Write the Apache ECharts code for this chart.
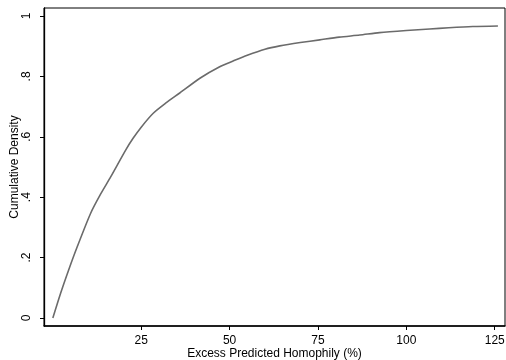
<!DOCTYPE html>
<html><head><meta charset="utf-8">
<script src="https://cdn.jsdelivr.net/npm/echarts@6/dist/echarts.min.js"></script>
<style>html,body{margin:0;padding:0;background:#fff}#c{width:506px;height:360px}</style>
</head><body><div id="c"></div>
<script>
const homophily = [0, 2.2, 4.5, 6.9, 10.7, 13.5, 16.4, 20.6, 22.7, 25, 28.4, 32, 35.9, 41.6, 47.2, 51, 55, 60, 64.2, 70, 75.5, 81, 86.8, 92.4, 100, 106.6, 112, 118.8, 125.9];
const density   = [0, 0.082, 0.16, 0.236, 0.347, 0.41, 0.468, 0.556, 0.595, 0.632, 0.678, 0.712, 0.745, 0.794, 0.832, 0.851, 0.87, 0.89, 0.901, 0.912, 0.921, 0.93, 0.937, 0.945, 0.952, 0.957, 0.961, 0.965, 0.967];
const xTicks = [25, 50, 75, 100, 125];
const yTicks = [0, 0.2, 0.4, 0.6, 0.8, 1];
const yTickLabels = ['0', '.2', '.4', '.6', '.8', '1'];

const chart = echarts.init(document.getElementById('c'));
const font = 'Liberation Sans, Arial, Helvetica, sans-serif';
chart.setOption({
  animation: false,
  grid: {left: 44, top: 8, right: 1, bottom: 34, show: true, borderColor: '#000', borderWidth: 1, backgroundColor: '#fff',
         containLabel: false, outerBoundsMode: 'none'},
  xAxis: {
    type: 'value', min: -2.5, max: 127.9,
    name: 'Excess Predicted Homophily (%)', nameLocation: 'middle', nameGap: 22, nameMoveOverlap: false,
    nameTextStyle: {fontFamily: font, fontSize: 12, color: '#000'},
    axisLine: {show: true, onZero: false, lineStyle: {color: '#000', width: 1.5}},
    axisTick: {show: true, length: 4, lineStyle: {color: '#000'}, customValues: xTicks},
    axisLabel: {fontFamily: font, fontSize: 12, color: '#000', margin: 9, customValues: xTicks},
    splitLine: {show: false}
  },
  yAxis: {
    type: 'value', min: -0.0265, max: 1.0265,
    name: 'Cumulative Density', nameLocation: 'middle', nameGap: 23, nameMoveOverlap: false,
    nameTextStyle: {fontFamily: font, fontSize: 12, color: '#000'},
    axisLine: {show: true, onZero: false, lineStyle: {color: '#000', width: 1.3}},
    axisTick: {show: true, length: 4, lineStyle: {color: '#000'}, customValues: yTicks},
    axisLabel: {fontFamily: font, fontSize: 12, color: '#000', margin: 11, rotate: 90,
      customValues: yTicks,
      formatter: v => { const i = yTicks.findIndex(t => Math.abs(t - v) < 1e-6); return i >= 0 ? yTickLabels[i] : ''; }},
    splitLine: {show: false}
  },
  series: [{
    type: 'line', smooth: 0.25, symbol: 'none',
    data: homophily.map((x, i) => [x, density[i]]),
    lineStyle: {color: '#6b6b6b', width: 1.6}
  }]
});
</script></body></html>
